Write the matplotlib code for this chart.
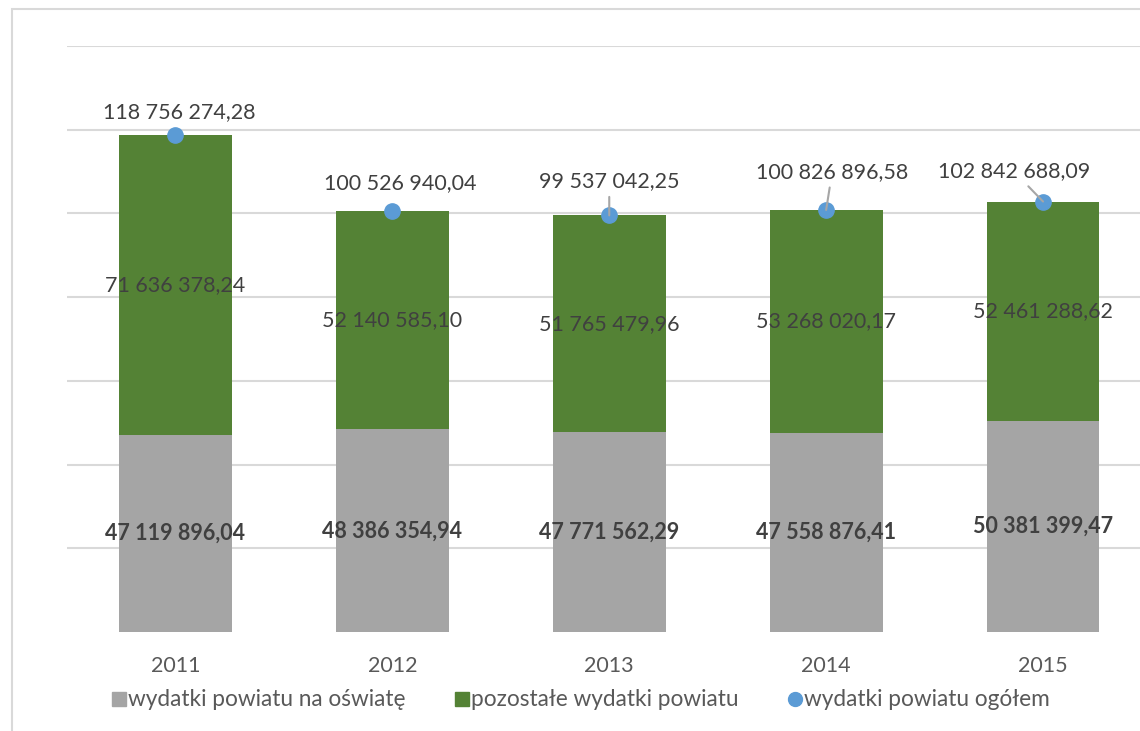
import matplotlib.pyplot as plt
from matplotlib.lines import Line2D
from matplotlib.patches import Rectangle
import numpy as np

years = ["2011", "2012", "2013", "2014", "2015"]
education = [47119896.04, 48386354.94, 47771562.29, 47558876.41, 50381399.47]
other = [71636378.24, 52140585.10, 51765479.96, 53268020.17, 52461288.62]
total = [118756274.28, 100526940.04, 99537042.25, 100826896.58, 102842688.09]

# label offsets for totals (pixels) and whether a leader line is drawn
total_offsets = [(4, 23), (8, 28), (0, 34), (6, 38), (-29, 30)]
leaders = [False, False, True, True, True]

GRAY = "#A5A5A5"
GREEN = "#548235"
BLUE = "#5B9BD5"
TXT = "#404040"
FS = 15.5


def fmt(v):
    s = "{:,.2f}".format(v)
    whole, dec = s.split(".")
    return whole.replace(",", " ") + "," + dec


plt.rcParams['font.family'] = ['Lato', 'DejaVu Sans']

W, H = 1140, 731
fig = plt.figure(figsize=(W / 100, H / 100), dpi=100)

# outer chart frame (partly cropped)
fig.patches.append(Rectangle((12 / W, -0.1), 1.2, 1 - 9 / H + 0.1, transform=fig.transFigure,
                             fill=False, edgecolor="#D9D9D9", linewidth=1.5))

left = 67 / W
width = (1151.5 - 67) / W
bottom = 1 - 632 / H
top = 1 - 46 / H
ax = fig.add_axes([left, bottom, width, top - bottom])

x = np.arange(len(years))
bw = 0.52
ax.bar(x, education, bw, color=GRAY, zorder=2)
ax.bar(x, other, bw, bottom=education, color=GREEN, zorder=2)
ax.plot(x, total, linestyle="none", marker="o", markersize=11, color=BLUE, zorder=4)

for i in range(len(years)):
    ax.text(x[i], education[i] / 2, fmt(education[i]), ha="center", va="center",
            fontsize=FS, fontweight="bold", color=TXT, zorder=5)
    ax.text(x[i], education[i] + other[i] / 2, fmt(other[i]), ha="center", va="center",
            fontsize=FS, color=TXT, zorder=5)
    dx, dy = total_offsets[i]
    ap = dict(arrowstyle="-", color="#A6A6A6", lw=1.5, shrinkA=2, shrinkB=0) if leaders[i] else None
    ax.annotate(fmt(total[i]), xy=(x[i], total[i]), xytext=(dx, dy),
                textcoords="offset pixels", ha="center", va="center",
                fontsize=FS, color=TXT, arrowprops=ap, zorder=5)

ax.set_xlim(-0.5, len(years) - 0.5)
ax.set_ylim(0, 140e6)
ax.set_yticks(np.arange(20e6, 141e6, 20e6))
ax.yaxis.grid(True, color="#D9D9D9", linewidth=1.5, zorder=0)
ax.set_yticklabels([])
ax.tick_params(axis="y", length=0)
ax.set_xticks(x)
ax.set_xticklabels(years, fontsize=FS, color="#595959")
ax.tick_params(axis="x", length=0, pad=17)
for s in ax.spines.values():
    s.set_visible(False)

handles = [
    Line2D([], [], linestyle="none", marker="s", markersize=10, color=GRAY),
    Line2D([], [], linestyle="none", marker="s", markersize=10, color=GREEN),
    Line2D([], [], linestyle="none", marker="o", markersize=10, color=BLUE),
]
labels = ["wydatki powiatu na oświatę", "pozostałe wydatki powiatu", "wydatki powiatu ogółem"]
fig.legend(handles, labels, loc="center", bbox_to_anchor=(581 / W, 1 - 700 / H), ncol=3,
           frameon=False, fontsize=16.3, handlelength=0.6, handletextpad=0.1,
           columnspacing=2.2, labelcolor="#595959")

fig.savefig("out.png", dpi=100)
